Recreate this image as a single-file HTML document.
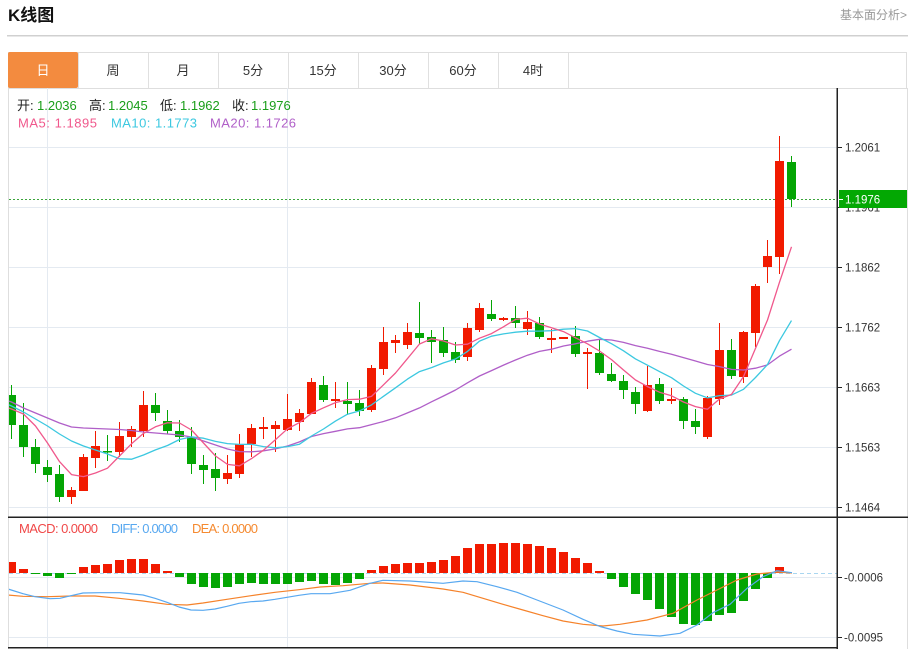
<!DOCTYPE html>
<html><head><meta charset="utf-8"><style>
html,body{margin:0;padding:0;background:#fff;}
svg{display:block;font-family:"Liberation Sans","Noto Sans CJK SC",sans-serif;}
</style></head><body>
<svg width="915" height="649" viewBox="0 0 915 649" xmlns="http://www.w3.org/2000/svg">
<rect width="915" height="649" fill="#fff"/>
<!-- header -->
<text x="8" y="21" font-size="17" font-weight="bold" fill="#111">K线图</text>
<text x="907" y="19" font-size="12" fill="#999" text-anchor="end">基本面分析&gt;</text>
<rect x="7" y="35" width="901" height="1.5" fill="#d0d0d0"/>
<!-- tabs -->
<rect x="8.5" y="52.5" width="898" height="36" fill="none" stroke="#dedede"/>
<rect x="8" y="52" width="70" height="36" rx="2" fill="#f38b3f"/>
<g stroke="#e0e0e0">
<line x1="148.5" y1="53" x2="148.5" y2="88"/><line x1="218.5" y1="53" x2="218.5" y2="88"/>
<line x1="288.5" y1="53" x2="288.5" y2="88"/><line x1="358.5" y1="53" x2="358.5" y2="88"/>
<line x1="428.5" y1="53" x2="428.5" y2="88"/><line x1="498.5" y1="53" x2="498.5" y2="88"/>
<line x1="568.5" y1="53" x2="568.5" y2="88"/><line x1="78.5" y1="53" x2="78.5" y2="88"/>
</g>
<g font-size="13" text-anchor="middle" fill="#333">
<text x="43" y="75" fill="#fff">日</text>
<text x="113" y="75">周</text><text x="183" y="75">月</text>
<text x="253" y="75">5分</text><text x="323" y="75">15分</text>
<text x="393" y="75">30分</text><text x="463" y="75">60分</text>
<text x="533" y="75">4时</text>
</g>
<!-- chart frame -->
<line x1="8.5" y1="88" x2="8.5" y2="649" stroke="#dedede"/>
<line x1="907.5" y1="88" x2="907.5" y2="649" stroke="#dedede"/>
<!-- grid -->
<g stroke="#e4eaf1" stroke-width="1">
<line x1="9" y1="147.5" x2="837" y2="147.5"/><line x1="9" y1="207.5" x2="837" y2="207.5"/>
<line x1="9" y1="267.5" x2="837" y2="267.5"/><line x1="9" y1="327.5" x2="837" y2="327.5"/>
<line x1="9" y1="387.5" x2="837" y2="387.5"/><line x1="9" y1="447.5" x2="837" y2="447.5"/>
<line x1="9" y1="507.5" x2="837" y2="507.5"/>
<line x1="9" y1="577.5" x2="837" y2="577.5"/><line x1="9" y1="637.5" x2="837" y2="637.5"/>
<line x1="47.5" y1="88" x2="47.5" y2="648"/><line x1="287.5" y1="88" x2="287.5" y2="648"/>
</g>
<!-- info text -->
<g font-size="13">
<text x="17" y="110" fill="#222">开:</text><text x="37" y="110" fill="#1a9e1a">1.2036</text>
<text x="89" y="110" fill="#222">高:</text><text x="108" y="110" fill="#1a9e1a">1.2045</text>
<text x="160" y="110" fill="#222">低:</text><text x="180" y="110" fill="#1a9e1a">1.1962</text>
<text x="232" y="110" fill="#222">收:</text><text x="251" y="110" fill="#1a9e1a">1.1976</text>
<text x="18" y="127.5" fill="#f0588c" textLength="79">MA5: 1.1895</text>
<text x="111" y="127.5" fill="#3cc8e0" textLength="86">MA10: 1.1773</text>
<text x="210" y="127.5" fill="#b05fc8" textLength="86">MA20: 1.1726</text>
<text x="19" y="533" fill="#f04848" textLength="79">MACD: 0.0000</text>
<text x="111" y="533" fill="#58a8f0" textLength="67">DIFF: 0.0000</text>
<text x="192" y="533" fill="#f58a30" textLength="66">DEA: 0.0000</text>
</g>
<defs>
<clipPath id="cm"><rect x="9" y="88" width="828" height="429"/></clipPath>
<clipPath id="cd"><rect x="9" y="518" width="828" height="130"/></clipPath>
</defs>
<!-- dotted current price -->
<line x1="9" y1="199.5" x2="837" y2="199.5" stroke="#3aa53a" stroke-dasharray="2,2"/>
<g clip-path="url(#cm)">
<g fill="#f11a00">
<rect x="67" y="490" width="9" height="7"/><rect x="71" y="487" width="1" height="17"/>
<rect x="79" y="457" width="9" height="34"/><rect x="83" y="454" width="1" height="37"/>
<rect x="91" y="446" width="9" height="12"/><rect x="95" y="431" width="1" height="37"/>
<rect x="115" y="436" width="9" height="16"/><rect x="119" y="422" width="1" height="35"/>
<rect x="127" y="429" width="9" height="8"/><rect x="131" y="426" width="1" height="21"/>
<rect x="139" y="405" width="9" height="26"/><rect x="143" y="391" width="1" height="46"/>
<rect x="223" y="473" width="9" height="6"/><rect x="227" y="455" width="1" height="29"/>
<rect x="235" y="444" width="9" height="30"/><rect x="239" y="434" width="1" height="44"/>
<rect x="247" y="428" width="9" height="16"/><rect x="251" y="424" width="1" height="33"/>
<rect x="259" y="427" width="9" height="2"/><rect x="263" y="417" width="1" height="22"/>
<rect x="271" y="425" width="9" height="4"/><rect x="275" y="421" width="1" height="31"/>
<rect x="283" y="419" width="9" height="11"/><rect x="287" y="394" width="1" height="37"/>
<rect x="295" y="413" width="9" height="9"/><rect x="299" y="409" width="1" height="22"/>
<rect x="307" y="382" width="9" height="32"/><rect x="311" y="378" width="1" height="36"/>
<rect x="331" y="399" width="9" height="2"/><rect x="335" y="382" width="1" height="26"/>
<rect x="367" y="368" width="9" height="42"/><rect x="371" y="365" width="1" height="47"/>
<rect x="379" y="342" width="9" height="27"/><rect x="383" y="327" width="1" height="48"/>
<rect x="391" y="340" width="9" height="3"/><rect x="395" y="335" width="1" height="18"/>
<rect x="403" y="332" width="9" height="13"/><rect x="407" y="323" width="1" height="26"/>
<rect x="463" y="328" width="9" height="29"/><rect x="467" y="323" width="1" height="38"/>
<rect x="475" y="308" width="9" height="22"/><rect x="479" y="303" width="1" height="29"/>
<rect x="499" y="318" width="9" height="2"/><rect x="503" y="317" width="1" height="4"/>
<rect x="523" y="322" width="9" height="7"/><rect x="527" y="311" width="1" height="24"/>
<rect x="547" y="338" width="9" height="2"/><rect x="551" y="329" width="1" height="24"/>
<rect x="559" y="337" width="9" height="2"/>
<rect x="583" y="352" width="9" height="2"/><rect x="587" y="348" width="1" height="41"/>
<rect x="643" y="385" width="9" height="26"/><rect x="647" y="366" width="1" height="46"/>
<rect x="667" y="399" width="9" height="2"/><rect x="671" y="388" width="1" height="16"/>
<rect x="703" y="398" width="9" height="39"/><rect x="707" y="396" width="1" height="43"/>
<rect x="715" y="350" width="9" height="49"/><rect x="719" y="323" width="1" height="82"/>
<rect x="739" y="332" width="9" height="45"/><rect x="743" y="331" width="1" height="52"/>
<rect x="751" y="286" width="9" height="47"/><rect x="755" y="284" width="1" height="63"/>
<rect x="763" y="256" width="9" height="11"/><rect x="767" y="240" width="1" height="43"/>
<rect x="775" y="161" width="9" height="96"/><rect x="779" y="136" width="1" height="138"/>
</g>
<g fill="#04a504">
<rect x="7" y="395" width="9" height="30"/><rect x="11" y="385" width="1" height="54"/>
<rect x="19" y="425" width="9" height="22"/><rect x="23" y="403" width="1" height="54"/>
<rect x="31" y="447" width="9" height="17"/><rect x="35" y="439" width="1" height="34"/>
<rect x="43" y="467" width="9" height="8"/><rect x="47" y="460" width="1" height="22"/>
<rect x="55" y="474" width="9" height="23"/><rect x="59" y="465" width="1" height="37"/>
<rect x="103" y="451" width="9" height="1.5"/><rect x="107" y="435" width="1" height="26"/>
<rect x="151" y="405" width="9" height="8"/><rect x="155" y="393" width="1" height="28"/>
<rect x="163" y="421" width="9" height="10"/><rect x="167" y="410" width="1" height="24"/>
<rect x="175" y="431" width="9" height="6"/><rect x="179" y="420" width="1" height="22"/>
<rect x="187" y="437" width="9" height="27"/><rect x="191" y="427" width="1" height="47"/>
<rect x="199" y="465" width="9" height="5"/><rect x="203" y="455" width="1" height="29"/>
<rect x="211" y="469" width="9" height="9"/><rect x="215" y="453" width="1" height="38"/>
<rect x="319" y="385" width="9" height="15"/><rect x="323" y="376" width="1" height="26"/>
<rect x="343" y="401" width="9" height="3"/><rect x="347" y="382" width="1" height="33"/>
<rect x="355" y="403" width="9" height="8"/><rect x="359" y="390" width="1" height="26"/>
<rect x="415" y="333" width="9" height="5"/><rect x="419" y="302" width="1" height="42"/>
<rect x="427" y="337" width="9" height="5"/><rect x="431" y="330" width="1" height="33"/>
<rect x="439" y="340" width="9" height="13"/><rect x="443" y="327" width="1" height="30"/>
<rect x="451" y="352" width="9" height="8"/><rect x="455" y="342" width="1" height="21"/>
<rect x="487" y="314" width="9" height="5"/><rect x="491" y="300" width="1" height="21"/>
<rect x="511" y="318" width="9" height="5"/><rect x="515" y="306" width="1" height="22"/>
<rect x="535" y="323" width="9" height="14"/><rect x="539" y="317" width="1" height="22"/>
<rect x="571" y="336" width="9" height="18"/><rect x="575" y="326" width="1" height="31"/>
<rect x="595" y="353" width="9" height="20"/><rect x="599" y="339" width="1" height="36"/>
<rect x="607" y="374" width="9" height="7"/><rect x="611" y="363" width="1" height="19"/>
<rect x="619" y="381" width="9" height="9"/><rect x="623" y="375" width="1" height="24"/>
<rect x="631" y="392" width="9" height="12"/><rect x="635" y="387" width="1" height="27"/>
<rect x="655" y="384" width="9" height="17"/><rect x="659" y="378" width="1" height="26"/>
<rect x="679" y="399" width="9" height="22"/><rect x="683" y="397" width="1" height="32"/>
<rect x="691" y="421" width="9" height="6"/><rect x="695" y="409" width="1" height="25"/>
<rect x="727" y="350" width="9" height="26"/><rect x="731" y="339" width="1" height="40"/>
<rect x="787" y="162" width="9" height="37"/><rect x="791" y="156" width="1" height="51"/>
</g>
<g fill="none" stroke-width="1.3" stroke-linejoin="round">
<polyline stroke="#b05fc8" points="0,398 11.5,402 23.5,408 35.5,413 47.5,418 59.5,423 71.5,427 83.5,428 95.5,428.5 107.5,429 119.5,429.5 131.5,430.5 143.5,432 155.5,433 167.5,434 179.5,435 191.5,437 203.5,441 215.5,445 227.5,449 239.5,451.6 251.5,451.8 263.5,450.8 275.5,448.9 287.5,446 299.5,441.9 311.5,436.5 323.5,433.6 335.5,431.3 347.5,428.9 359.5,427.7 371.5,424.6 383.5,421.5 395.5,417.8 407.5,412.9 419.5,407.9 431.5,401.8 443.5,396 455.5,390 467.5,382.8 479.5,376 491.5,370.6 503.5,365.1 515.5,360 527.5,355.2 539.5,351.4 551.5,349.2 563.5,346 575.5,343.8 587.5,341.2 599.5,339.3 611.5,340 623.5,342.4 635.5,345.6 647.5,348.2 659.5,351.4 671.5,354.2 683.5,357.6 695.5,361 707.5,364.5 719.5,366.6 731.5,369.4 743.5,370 755.5,368.2 767.5,364.9 779.5,356.1 791.5,349.2"/>
<polyline stroke="#3cc8e0" points="0,401 11.5,406 23.5,412 35.5,419 47.5,426 59.5,434 71.5,441 83.5,446 95.5,450 107.5,454 119.5,458.8 131.5,459.2 143.5,455 155.5,449.9 167.5,445.5 179.5,439.5 191.5,436.9 203.5,438.2 215.5,441.4 227.5,443.6 239.5,444.4 251.5,444.3 263.5,446.6 275.5,447.8 287.5,446.6 299.5,444.2 311.5,436 323.5,429 335.5,421.1 347.5,414.2 359.5,410.9 371.5,404.9 383.5,396.3 395.5,387.8 407.5,379.1 419.5,371.6 431.5,367.6 443.5,362.9 455.5,359 467.5,351.4 479.5,341.1 491.5,336.2 503.5,333.9 515.5,332.2 527.5,331.2 539.5,331.1 551.5,330.7 563.5,329.2 575.5,328.6 587.5,331 599.5,337.5 611.5,343.7 623.5,350.8 635.5,358.9 647.5,365.2 659.5,371.6 671.5,377.7 683.5,386 695.5,393.3 707.5,397.9 719.5,395.6 731.5,395.1 743.5,389.3 755.5,377.5 767.5,364.6 779.5,340.6 791.5,320.6"/>
<polyline stroke="#f0588c" points="0,405 11.5,409 23.5,414 35.5,426 47.5,443 59.5,461.6 71.5,474.6 83.5,476.6 95.5,473 107.5,468.2 119.5,456 131.5,443.8 143.5,433.4 155.5,426.8 167.5,422.8 179.5,423 191.5,430 203.5,443 215.5,456 227.5,464.4 239.5,465.8 251.5,458.6 263.5,450.2 275.5,439.6 287.5,428.8 299.5,422.6 311.5,413.4 323.5,407.8 335.5,402.6 347.5,399.6 359.5,399.2 371.5,396.4 383.5,384.8 395.5,373 407.5,358.6 419.5,344 431.5,338.8 443.5,341 455.5,345 467.5,344.2 479.5,338.2 491.5,333.6 503.5,326.8 515.5,319.4 527.5,318.2 539.5,324 551.5,327.8 563.5,331.6 575.5,337.8 587.5,343.8 599.5,351 611.5,359.6 623.5,370 635.5,380 647.5,386.6 659.5,392.2 671.5,395.8 683.5,402 695.5,406.6 707.5,409.2 719.5,399 731.5,394.4 743.5,376.6 755.5,348.4 767.5,320 779.5,282.2 791.5,246.8"/>
</g>
</g>
<!-- MACD panel -->
<line x1="9" y1="573.5" x2="837" y2="573.5" stroke="#a9d6f0" stroke-dasharray="4,3"/>
<g clip-path="url(#cd)">
<g fill="#f11a00">
<rect x="7" y="562" width="9" height="11"/><rect x="19" y="569" width="9" height="4"/>
<rect x="79" y="567" width="9" height="6"/><rect x="91" y="565" width="9" height="8"/>
<rect x="103" y="564" width="9" height="9"/><rect x="115" y="560" width="9" height="13"/>
<rect x="127" y="559" width="9" height="14"/><rect x="139" y="559" width="9" height="14"/>
<rect x="151" y="564" width="9" height="9"/><rect x="163" y="571" width="9" height="2"/>
<rect x="367" y="570" width="9" height="3"/><rect x="379" y="566" width="9" height="7"/>
<rect x="391" y="564" width="9" height="9"/><rect x="403" y="563" width="9" height="10"/>
<rect x="415" y="563" width="9" height="10"/><rect x="427" y="562" width="9" height="11"/>
<rect x="439" y="560" width="9" height="13"/><rect x="451" y="556" width="9" height="17"/>
<rect x="463" y="548" width="9" height="25"/><rect x="475" y="544" width="9" height="29"/>
<rect x="487" y="544" width="9" height="29"/><rect x="499" y="543" width="9" height="30"/>
<rect x="511" y="543" width="9" height="30"/><rect x="523" y="544" width="9" height="29"/>
<rect x="535" y="546" width="9" height="27"/><rect x="547" y="548" width="9" height="25"/>
<rect x="559" y="552" width="9" height="21"/><rect x="571" y="558" width="9" height="15"/>
<rect x="583" y="563" width="9" height="10"/><rect x="595" y="571" width="9" height="2"/>
<rect x="775" y="567" width="9" height="6"/>
</g>
<g fill="#04a504">
<rect x="31" y="573" width="9" height="1"/><rect x="43" y="573" width="9" height="3"/>
<rect x="55" y="573" width="9" height="5"/><rect x="67" y="573" width="9" height="1"/>
<rect x="175" y="573" width="9" height="4"/><rect x="187" y="573" width="9" height="11"/>
<rect x="199" y="573" width="9" height="14"/><rect x="211" y="573" width="9" height="15"/>
<rect x="223" y="573" width="9" height="14"/><rect x="235" y="573" width="9" height="11"/>
<rect x="247" y="573" width="9" height="10"/><rect x="259" y="573" width="9" height="11"/>
<rect x="271" y="573" width="9" height="11"/><rect x="283" y="573" width="9" height="11"/>
<rect x="295" y="573" width="9" height="9"/><rect x="307" y="573" width="9" height="8"/>
<rect x="319" y="573" width="9" height="11"/><rect x="331" y="573" width="9" height="12"/>
<rect x="343" y="573" width="9" height="10"/><rect x="355" y="573" width="9" height="6"/>
<rect x="607" y="573" width="9" height="6"/><rect x="619" y="573" width="9" height="14"/>
<rect x="631" y="573" width="9" height="21"/><rect x="643" y="573" width="9" height="27"/>
<rect x="655" y="573" width="9" height="36"/><rect x="667" y="573" width="9" height="44"/>
<rect x="679" y="573" width="9" height="51"/><rect x="691" y="573" width="9" height="52"/>
<rect x="703" y="573" width="9" height="48"/><rect x="715" y="573" width="9" height="42"/>
<rect x="727" y="573" width="9" height="40"/><rect x="739" y="573" width="9" height="28"/>
<rect x="751" y="573" width="9" height="16"/><rect x="763" y="573" width="9" height="5"/>
</g>
<g fill="none" stroke-width="1.2" stroke-linejoin="round">
<polyline stroke="#f5822a" points="0,594.5 8,595 23,596.3 47,596.7 71,596 95,596 119,598.3 143,601 167,604.3 187,605 203,603 227,599.3 251,595.7 275,592.3 299,589.7 320,587 343,585.7 370,583.3 383,583 410,585 443,589 463,592.3 483,598.3 503,604.3 523,610 543,615.7 563,621 583,624.3 603,626 620,624.3 647,620 673,613.3 697,600 717,590 737,580 757,574 777,572 792,573"/>
<polyline stroke="#58a8f0" points="0,587 8,589 23,593.7 35,596.7 50,598.7 60,598.3 71,595.7 83,593 100,592.7 120,592.7 143,595 155,598.3 167,602.3 179,607 191,610 203,610.3 215,609 227,606.3 239,603.3 251,601.7 263,601 275,599.3 287,597.3 299,595.3 311,593.7 330,593.7 350,590.3 370,583.3 383,580.3 410,581 443,583.3 463,581 477,581.7 497,586.7 517,592.3 537,600 563,610 583,619.3 600,626.5 617,631 633,634.3 660,636 680,633.3 697,625 713,612.7 730,604.3 747,588.3 763,576.7 777,570.7 792,572.7"/>
</g>
</g>
<!-- axes -->
<rect x="8" y="516.5" width="900" height="1.5" fill="#222"/>
<rect x="8" y="647" width="830" height="1.5" fill="#222"/>
<rect x="836.5" y="88" width="1.5" height="561" fill="#222"/>
<g stroke="#222">
<line x1="837" y1="147.5" x2="842" y2="147.5"/><line x1="837" y1="207.5" x2="842" y2="207.5"/>
<line x1="837" y1="267.5" x2="842" y2="267.5"/><line x1="837" y1="327.5" x2="842" y2="327.5"/>
<line x1="837" y1="387.5" x2="842" y2="387.5"/><line x1="837" y1="447.5" x2="842" y2="447.5"/>
<line x1="837" y1="507.5" x2="842" y2="507.5"/>
<line x1="837" y1="577.5" x2="842" y2="577.5"/><line x1="837" y1="637.5" x2="842" y2="637.5"/>
</g>
<g font-size="11.5" fill="#333">
<text x="845" y="151.5">1.2061</text>
<text x="845" y="211.5">1.1961</text>
<text x="845" y="271.5">1.1862</text>
<text x="845" y="331.5">1.1762</text>
<text x="845" y="391.5">1.1663</text>
<text x="845" y="451.5">1.1563</text>
<text x="845" y="511.5">1.1464</text>
<text x="844" y="581.5">-0.0006</text>
<text x="844" y="641.5">-0.0095</text>
</g>
<rect x="839" y="190" width="68" height="18" fill="#03a803"/>
<line x1="839" y1="199.5" x2="843" y2="199.5" stroke="#fff"/>
<text x="845" y="203.5" font-size="11.5" fill="#fff">1.1976</text>
</svg>
</body></html>
